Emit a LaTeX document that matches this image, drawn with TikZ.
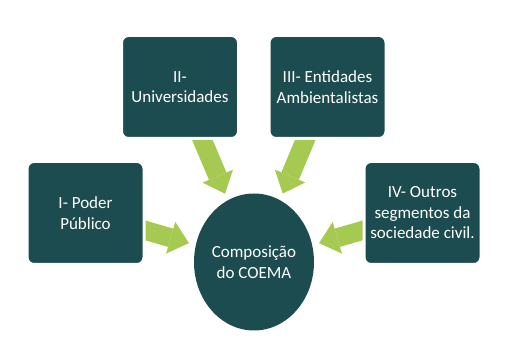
\documentclass[tikz,border=0pt]{standalone}
\usepackage{fontspec}
\setmainfont{Carlito}
\usetikzlibrary{shapes.geometric,arrows.meta,backgrounds}
\definecolor{boxteal}{RGB}{28,76,79}
\definecolor{feedgreen}{RGB}{166,201,82}
\begin{document}
\begin{tikzpicture}[x=1pt,y=-1pt,
  label text/.style={text=white,font=\fontsize{17}{20.5}\selectfont,align=center},
  member/.style={label text,rectangle,rounded corners=7pt,fill=boxteal,draw=white,
    line width=3pt,minimum width=117pt,minimum height=103pt,inner sep=0pt},
  hub/.style={label text,ellipse,fill=boxteal,minimum width=120pt,
    minimum height=137pt,inner sep=0pt},
  feed/.style={draw=feedgreen,line width=19pt,
    -{Triangle[length=19pt,width=33pt,line width=0pt]},shorten >=7pt}]
\useasboundingbox (0,0) rectangle (515,350);
% council composition and its four member groups
\node[hub] (coema) at (254,262) {Composição\\do COEMA};
\node[member] (pI)   at (85.5,213)  {I- Poder\\Público};
\node[member] (pII)  at (180,87)    {II-\\Universidades};
\node[member] (pIII) at (327.5,87)  {III- Entidades\\Ambientalistas};
\node[member] (pIV)  at (422.5,213) {IV- Outros\\segmentos da\\sociedade civil.};
% block arrows run behind the boxes into the hub
\begin{scope}[on background layer]
  \draw[feed] (pI.center)   -- (coema);
  \draw[feed] (pII.center)  -- (coema);
  \draw[feed] (pIII.center) -- (coema);
  \draw[feed] (pIV.center)  -- (coema);
\end{scope}
\end{tikzpicture}
\end{document}
